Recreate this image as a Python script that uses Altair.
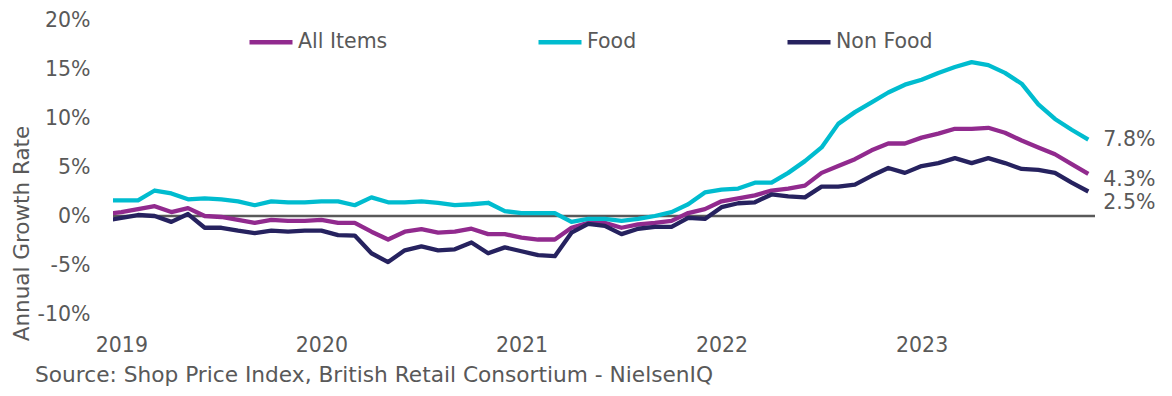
import altair as alt
import pandas as pd

# Monthly index: -1 = Dec 2018, 0 = Jan 2019 ... 58 = Nov 2023
months = list(range(-1, 59))

all_items = [0.2,
    0.4, 0.7, 1.0, 0.4, 0.8, 0.0, -0.1, -0.4, -0.7, -0.4, -0.5, -0.5,
    -0.4, -0.7, -0.7, -1.6, -2.4, -1.6, -1.35, -1.7, -1.6, -1.3, -1.85, -1.85,
    -2.2, -2.4, -2.4, -1.2, -0.7, -0.7, -1.2, -0.85, -0.7, -0.5, 0.3, 0.7,
    1.5, 1.8, 2.1, 2.6, 2.8, 3.1, 4.4, 5.1, 5.8, 6.7, 7.4, 7.4,
    8.0, 8.4, 8.9, 8.9, 9.0, 8.5, 7.7, 7.0, 6.3, 5.3, 4.3]

food = [1.6,
    1.6, 1.6, 2.6, 2.3, 1.7, 1.8, 1.7, 1.5, 1.1, 1.5, 1.4, 1.4,
    1.5, 1.5, 1.1, 1.9, 1.4, 1.4, 1.5, 1.35, 1.1, 1.2, 1.35, 0.5,
    0.3, 0.3, 0.3, -0.6, -0.3, -0.3, -0.5, -0.3, 0.0, 0.4, 1.2, 2.4,
    2.7, 2.8, 3.4, 3.4, 4.4, 5.6, 7.0, 9.4, 10.6, 11.6, 12.6, 13.4,
    13.9, 14.6, 15.2, 15.7, 15.4, 14.6, 13.5, 11.4, 9.9, 8.8, 7.8]

non_food = [-0.5,
    -0.2, 0.1, 0.0, -0.6, 0.2, -1.2, -1.2, -1.5, -1.75, -1.5, -1.6, -1.5,
    -1.5, -1.95, -2.0, -3.8, -4.7, -3.5, -3.1, -3.5, -3.4, -2.7, -3.8, -3.2,
    -3.6, -4.0, -4.1, -1.7, -0.8, -1.0, -1.85, -1.3, -1.1, -1.1, -0.2, -0.3,
    0.9, 1.3, 1.4, 2.2, 2.0, 1.9, 3.0, 3.0, 3.2, 4.1, 4.9, 4.4,
    5.1, 5.4, 5.9, 5.4, 5.9, 5.4, 4.8, 4.7, 4.4, 3.4, 2.5]

series_names = ["All Items", "Food", "Non Food"]
series_colors = ["#912A8E", "#00BCCF", "#26225F"]
year_ticks = [0, 12, 24, 36, 48]
year_labels = ["2019", "2020", "2021", "2022", "2023"]
y_ticks = [-10, -5, 0, 5, 10, 15, 20]
source_text = "Source: Shop Price Index, British Retail Consortium - NielsenIQ"

rows = []
for name, vals in zip(series_names, [all_items, food, non_food]):
    for m, v in zip(months, vals):
        rows.append({"month": m, "series": name, "value": v})
df = pd.DataFrame(rows)

FONT = "DejaVu Sans"
GREY = "#595959"
FS = 20.5

label_expr = "[" + ",".join("'%s'" % s for s in year_labels) + "][datum.value/12]"

x_enc = alt.X("month:Q",
    scale=alt.Scale(domain=[-0.5, 58.4], nice=False, zero=False),
    axis=alt.Axis(values=year_ticks, labelExpr=label_expr, title=None,
                  domain=False, ticks=False, grid=False, labelFontSize=FS,
                  labelFont=FONT, labelColor=GREY, labelPadding=21,
                  labelFlush=False))
y_enc = alt.Y("value:Q",
    scale=alt.Scale(domain=[-10, 20], nice=False),
    axis=alt.Axis(values=y_ticks, labelExpr="datum.value + '%'",
                  title="Annual Growth Rate", titleFont=FONT, titleFontSize=21.5,
                  titleFontWeight="normal", titleColor=GREY, titleAngle=-90,
                  titleX=-91, titleY=213, titleAlign="center",
                  titleBaseline="middle",
                  domain=False, ticks=False, grid=False, labelFontSize=FS,
                  labelFont=FONT, labelColor=GREY, labelPadding=23))

base = alt.Chart(df)

zero_rule = alt.Chart(pd.DataFrame({"v": [0]})).mark_rule(
    color=GREY, strokeWidth=2.5).encode(y=alt.Y("v:Q", scale=alt.Scale(domain=[-10, 20], nice=False)))

lines = base.mark_line(strokeWidth=4.3, clip=True, strokeJoin="round").encode(
    x=x_enc, y=y_enc,
    color=alt.Color("series:N",
        scale=alt.Scale(domain=series_names, range=series_colors),
        legend=alt.Legend(title=None, orient="none", legendX=134, legendY=-2,
                          direction="horizontal", columns=3, columnPadding=141,
                          symbolType="stroke", symbolSize=1849,
                          symbolStrokeWidth=4.3, labelFont=FONT,
                          labelFontSize=FS, labelColor=GREY, labelOffset=3,
                          labelLimit=300)))

last_month = months[-1]
label_dys = {"All Items": 6, "Food": 0, "Non Food": 11}
end_labels = []
for name in series_names:
    end_labels.append(
        base.transform_filter(
            (alt.datum.month == last_month) & (alt.datum.series == name)
        ).transform_calculate(
            lab="format(datum.value, '.1f') + '%'"
        ).mark_text(align="left", baseline="middle", dx=15, dy=label_dys[name],
                    font=FONT, fontSize=FS, color=GREY).encode(
            x="month:Q", y="value:Q", text="lab:N"))

chart = alt.layer(zero_rule, lines, *end_labels).properties(
    width=982, height=294,
    padding={"left": 105, "top": 12, "right": 69, "bottom": 74},
    autosize=alt.AutoSizeParams(type="none"),
    title=alt.TitleParams(source_text, orient="bottom", anchor="start",
                          frame="group", dx=-78, offset=9, font=FONT,
                          fontSize=21.7, fontWeight="normal", color=GREY),
).configure(background="white").configure_view(stroke=None, strokeWidth=0)

chart.save("out.html", embed_options={"renderer": "svg", "actions": False})
